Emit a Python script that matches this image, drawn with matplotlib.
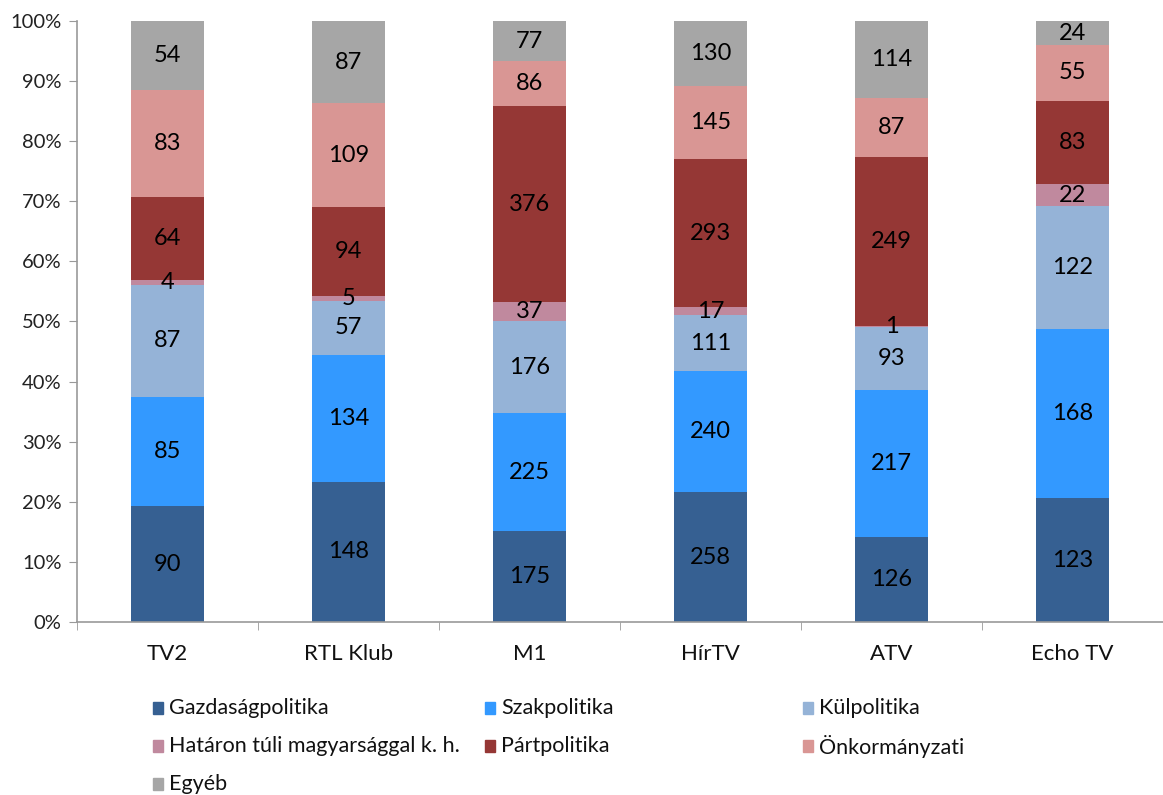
import matplotlib
matplotlib.use('Agg')
import matplotlib.pyplot as plt
from matplotlib.patches import Rectangle
import numpy as np

plt.rcParams['font.family'] = ['Lato', 'DejaVu Sans']

# channels and topic categories
channels = ['TV2', 'RTL Klub', 'M1', 'HírTV', 'ATV', 'Echo TV']
topics = ['Gazdaságpolitika', 'Szakpolitika', 'Külpolitika',
          'Határon túli magyarsággal k. h.', 'Pártpolitika', 'Önkormányzati', 'Egyéb']

gazdasag = [90, 148, 175, 258, 126, 123]
szak = [85, 134, 225, 240, 217, 168]
kul = [87, 57, 176, 111, 93, 122]
hataron = [4, 5, 37, 17, 1, 22]
part = [64, 94, 376, 293, 249, 83]
onkorm = [83, 109, 86, 145, 87, 55]
egyeb = [54, 87, 77, 130, 114, 24]

colors = ['#366092', '#3399FF', '#95B3D7', '#C0899E', '#953735', '#D99694', '#A6A6A6']

data = np.array([gazdasag, szak, kul, hataron, part, onkorm, egyeb], dtype=float)
pct = data / data.sum(axis=0) * 100

fig = plt.figure(figsize=(11.63, 7.95), dpi=100)
ax = fig.add_axes([0.0662, 0.2176, 0.9338, 0.756])

x = np.arange(len(channels)) + 0.5
bottom = np.zeros(len(channels))
for i in range(len(topics)):
    ax.bar(x, pct[i], 0.4, bottom=bottom, color=colors[i], edgecolor='none')
    for j in range(len(channels)):
        ax.text(x[j], bottom[j] + pct[i][j] / 2, '%d' % data[i][j],
                ha='center', va='center', fontsize=17, color='black')
    bottom += pct[i]

ax.set_xlim(0, len(channels))
ax.set_ylim(0, 100)
ax.set_yticks(np.arange(0, 101, 10))
ax.set_yticklabels(['%d%%' % v for v in range(0, 101, 10)], fontsize=14.5, color='#222222')
ax.set_xticks(x)
ax.set_xticklabels(channels, fontsize=16, color='#111111')
ax.tick_params(axis='x', length=0, pad=16)
ax.set_xticks(np.arange(0, len(channels) + 1), minor=True)
ax.tick_params(axis='x', which='minor', length=6, color='#999999')
ax.tick_params(axis='y', length=6, color='#999999', pad=5)
for s in ['top', 'right']:
    ax.spines[s].set_visible(False)
for s in ['left', 'bottom']:
    ax.spines[s].set_color('#999999')
    ax.spines[s].set_linewidth(1.2)

# legend laid out like the original (3 columns)
col_x = [158, 490, 808]
row_y = [708, 746, 784]
W, H = 1163, 795
for i, t in enumerate(topics):
    cx = col_x[i % 3]
    cy = row_y[i // 3]
    fig.patches.append(Rectangle(((cx - 5) / W, 1 - (cy + 6) / H), 10 / W, 12 / H,
                                 transform=fig.transFigure, color=colors[i]))
    fig.text((cx + 11) / W, 1 - cy / H, t, ha='left', va='center', fontsize=15.5, color='#111111')

plt.savefig('out.png', dpi=100, facecolor='white')
